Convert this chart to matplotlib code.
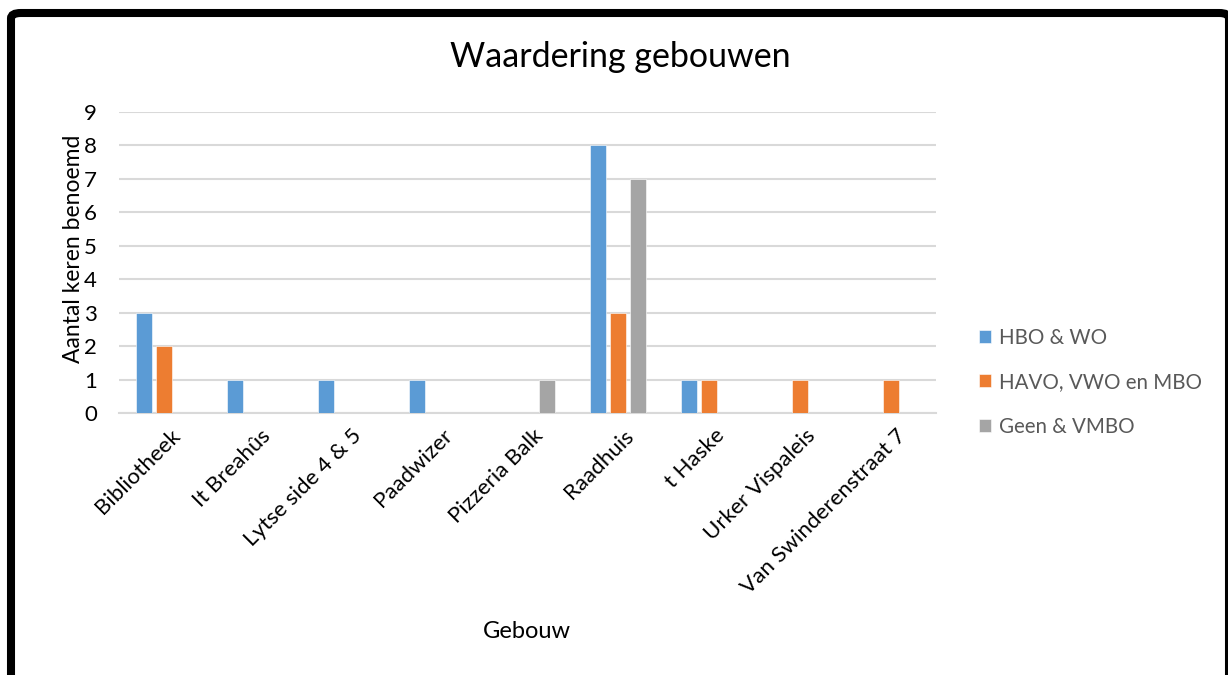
import numpy as np
import matplotlib
matplotlib.use("Agg")
from matplotlib import pyplot as plt
from matplotlib.patches import FancyBboxPatch

gebouwen = ["Bibliotheek", "It Breahûs", "Lytse side 4 & 5", "Paadwizer",
            "Pizzeria Balk", "Raadhuis", "t Haske", "Urker Vispaleis",
            "Van Swinderenstraat 7"]
hbo_wo = [3, 1, 1, 1, 0, 8, 1, 0, 0]
havo_vwo_mbo = [2, 0, 0, 0, 0, 3, 1, 1, 1]
geen_vmbo = [0, 0, 0, 0, 1, 7, 0, 0, 0]
series = ["HBO & WO", "HAVO, VWO en MBO", "Geen & VMBO"]
kleuren = ["#5b9bd5", "#ed7d31", "#a5a5a5"]

plt.rcParams["font.family"] = ["Lato", "DejaVu Sans"]

W, H = 1228, 675
fig = plt.figure(figsize=(W / 100, H / 100), dpi=100)
ax = fig.add_axes([119 / W, 1 - 413 / H, (936 - 119) / W, (413 - 112) / H])

x = np.arange(len(gebouwen))
bw = 0.176
stap = 0.22
for i, (naam, vals) in enumerate(zip(series, [hbo_wo, havo_vwo_mbo, geen_vmbo])):
    ax.bar(x + (i - 1) * stap, vals, width=bw, color=kleuren[i], label=naam,
           edgecolor="white", linewidth=0.4, zorder=3)

ax.set_xlim(-0.5, len(gebouwen) - 0.5)
ax.set_ylim(0, 9)
ax.set_yticks(range(10))
ax.yaxis.grid(True, color="#d9d9d9", linewidth=1.5, zorder=0)
for s in ["top", "right", "left"]:
    ax.spines[s].set_visible(False)
ax.spines["bottom"].set_color("#d9d9d9")
ax.spines["bottom"].set_linewidth(1.5)
ax.tick_params(axis="both", length=0, labelsize=16)
ax.tick_params(axis="y", pad=16)
ax.set_xticks(x + 0.06)
ax.set_xticklabels(gebouwen, rotation=45, ha="right", rotation_mode="anchor")
ax.tick_params(axis="x", pad=9)

fig.text(74 / W, 1 - 249 / H, "Aantal keren benoemd", fontsize=16.5,
         rotation=90, ha="center", va="center")
fig.text(527 / W, 1 - 632 / H, "Gebouw", fontsize=17, ha="center", va="center")
fig.text(620 / W, 1 - 57 / H, "Waardering gebouwen", fontsize=24.5, ha="center", va="center")

leg = fig.legend(loc="upper left", bbox_to_anchor=(960 / W, 1 - 309 / H),
                 frameon=False, fontsize=14.8, handlelength=0.6, handleheight=0.6,
                 labelspacing=1.2, handletextpad=0.4)
for t in leg.get_texts():
    t.set_color("#595959")

rand = FancyBboxPatch((11 / W, -30 / H), (1229 - 11) / W, (H - 13 + 30) / H,
                      boxstyle="round,pad=0,rounding_size=0.008",
                      transform=fig.transFigure, fill=False, edgecolor="black",
                      linewidth=5.8, clip_on=False)
fig.patches.append(rand)

fig.savefig("out.png", dpi=100)
